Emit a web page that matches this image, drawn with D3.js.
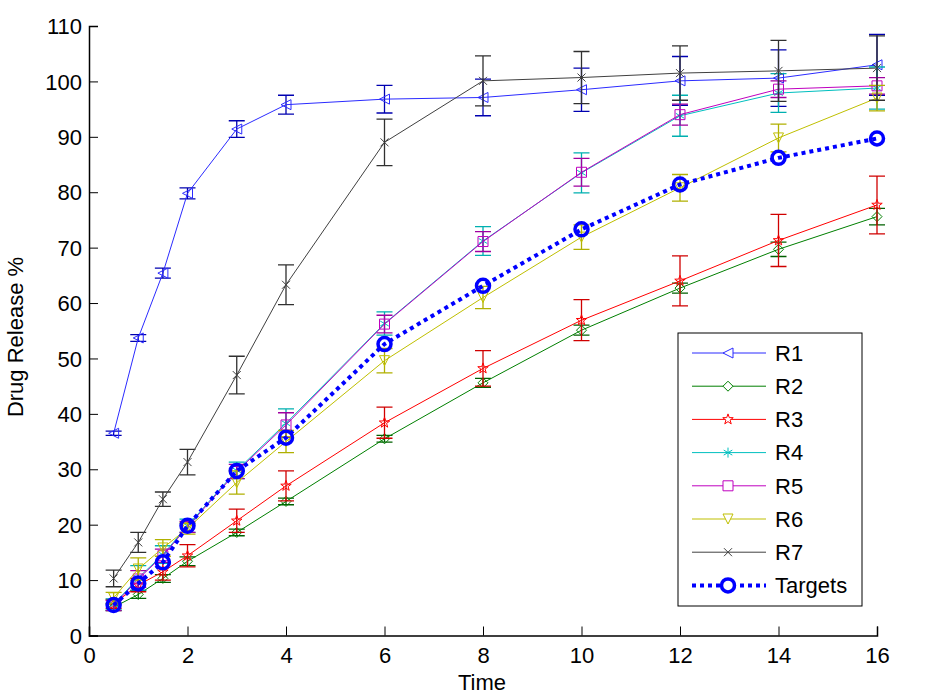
<!DOCTYPE html>
<html><head><meta charset="utf-8">
<script src="https://cdn.jsdelivr.net/npm/d3@7"></script>
<style>body{margin:0;background:#fff}svg{display:block}text{font-family:Arial,"Liberation Sans",sans-serif;fill:#000}</style>
</head><body><svg id="c" width="929" height="700"></svg>
<script>
const times = [0.5, 1, 1.5, 2, 3, 4, 6, 8, 10, 12, 14, 16];
const seriesNames = ["R1","R2","R3","R4","R5","R6","R7","Targets"];
const r1 = [36.5, 53.7, 65.4, 79.8, 91.4, 95.8, 96.8, 97.1, 98.5, 100.1, 100.6, 103.0];
const r1Err = [0.4, 0.6, 0.9, 1.0, 1.5, 1.7, 2.5, 3.3, 3.9, 4.4, 5.1, 5.5];
const r2 = [5.1, 7.4, 10.3, 13.4, 18.6, 24.2, 35.5, 45.6, 55.1, 62.7, 69.7, 75.6];
const r2Err = [0.6, 0.7, 0.7, 0.8, 0.6, 0.6, 0.6, 0.8, 0.9, 0.9, 1.3, 1.5];
const r3 = [5.7, 9.1, 11.5, 14.4, 20.7, 27.0, 38.4, 48.2, 56.9, 64.0, 71.3, 77.7];
const r3Err = [0.8, 1.2, 1.5, 2.0, 2.1, 2.7, 2.8, 3.2, 3.7, 4.5, 4.7, 5.2];
const r4 = [5.6, 10.4, 14.6, 19.8, 29.8, 38.3, 56.3, 71.2, 83.5, 93.8, 97.9, 98.8];
const r4Err = [1.0, 2.2, 1.6, 1.2, 1.5, 2.6, 2.1, 2.6, 3.6, 3.7, 3.5, 3.8];
const r5 = [5.4, 10.2, 14.4, 19.6, 29.6, 38.0, 56.2, 71.1, 83.6, 94.0, 98.6, 99.2];
const r5Err = [0.9, 1.5, 1.2, 1.0, 1.3, 2.2, 1.6, 1.8, 2.5, 1.9, 1.5, 1.5];
const r6 = [6.8, 12.0, 15.8, 19.3, 27.6, 35.0, 49.6, 61.0, 71.9, 80.8, 89.8, 97.0];
const r6Err = [1.0, 2.0, 1.5, 1.0, 2.1, 2.0, 2.2, 2.0, 2.2, 2.4, 2.5, 2.3];
const r7 = [10.3, 16.8, 24.6, 31.3, 47.0, 63.3, 89.0, 100.1, 100.7, 101.5, 101.9, 102.4];
const r7Err = [1.5, 1.8, 1.3, 2.3, 3.4, 3.6, 4.2, 4.5, 4.7, 4.9, 5.5, 5.8];
const targets = [5.5, 9.4, 13.2, 19.8, 29.7, 35.7, 52.6, 63.1, 73.3, 81.4, 86.2, 89.7];
const xTicks = [0, 2, 4, 6, 8, 10, 12, 14, 16];
const yTicks = [0, 10, 20, 30, 40, 50, 60, 70, 80, 90, 100, 110];

const svg = d3.select("#c");
const x = d3.scaleLinear().domain([0, 16]).range([89, 877]);
const y = d3.scaleLinear().domain([0, 110]).range([635.5, 26]);

const seriesDefs = [
  {name:"R1", v:r1, e:r1Err, color:"#2b2bff", ecol:"#0000b0", marker:"tleft"},
  {name:"R2", v:r2, e:r2Err, color:"#007f00", ecol:"#006000", marker:"diamond"},
  {name:"R3", v:r3, e:r3Err, color:"#ff0000", ecol:"#d00000", marker:"star"},
  {name:"R4", v:r4, e:r4Err, color:"#00bfbf", ecol:"#00b0b0", marker:"aster"},
  {name:"R5", v:r5, e:r5Err, color:"#bf00bf", ecol:"#a000a0", marker:"square"},
  {name:"R6", v:r6, e:r6Err, color:"#bfbf00", ecol:"#b0b000", marker:"tdown"},
  {name:"R7", v:r7, e:r7Err, color:"#404040", ecol:"#303030", marker:"x"},
];

function markerPath(type){
  const s = 5;
  switch(type){
    case "tleft": return `M${-s},0L${s},${-s}L${s},${s}Z`;
    case "tdown": return `M${-s},${-s}L${s},${-s}L0,${s}Z`;
    case "diamond": return `M0,${-s}L${s},0L0,${s}L${-s},0Z`;
    case "square": return `M${-s},${-s}L${s},${-s}L${s},${s}L${-s},${s}Z`;
    case "x": return `M${-4},${-4}L4,4M${-4},4L4,${-4}`;
    case "aster": return `M0,${-5}L0,5M${-4.3},${-2.5}L4.3,2.5M${-4.3},2.5L4.3,${-2.5}`;
    case "star": {
      let p = [];
      for (let i=0;i<10;i++){
        const r = i%2===0 ? 5.5 : 2.2;
        const a = -Math.PI/2 + i*Math.PI/5;
        p.push([r*Math.cos(a), r*Math.sin(a)]);
      }
      return "M" + p.map(d=>d[0].toFixed(2)+","+d[1].toFixed(2)).join("L") + "Z";
    }
  }
}

// axes
const gx = svg.append("g").attr("transform","translate(0,635.5)")
  .call(d3.axisBottom(x).tickValues(xTicks).tickSize(-9).tickPadding(12).tickFormat(d3.format("d")));
const gy = svg.append("g").attr("transform","translate(89,0)")
  .call(d3.axisLeft(y).tickValues(yTicks).tickSize(-9).tickPadding(7).tickFormat(d3.format("d")));
[gx, gy].forEach(g=>{
  g.select(".domain").attr("stroke","#000").attr("stroke-width",1.5);
  g.selectAll(".tick line").attr("stroke","#000").attr("stroke-width",1);
  g.selectAll(".tick text").style("font-size","22px").attr("fill","#000");
});
gy.selectAll(".tick text").attr("dy","0.35em");

svg.append("text").attr("x",482).attr("y",690).attr("text-anchor","middle").style("font-size","22px").text("Time");
svg.append("text").attr("transform","translate(23,337) rotate(-90)").attr("text-anchor","middle").style("font-size","22px").text("Drug Release %");

const line = d3.line().x((d,i)=>x(times[i])).y(d=>y(d));
const plot = svg.append("g");

seriesDefs.forEach(s=>{
  const g = plot.append("g");
  s.v.forEach((v,i)=>{
    const cx = x(times[i]), y1 = y(v - s.e[i]), y2 = y(v + s.e[i]);
    g.append("path").attr("d",`M${cx},${y1}L${cx},${y2}M${cx-8},${y1}L${cx+8},${y1}M${cx-8},${y2}L${cx+8},${y2}`)
      .attr("stroke", s.ecol).attr("stroke-width",1.3).attr("fill","none");
  });
  g.append("path").attr("d", line(s.v)).attr("fill","none").attr("stroke", s.color).attr("stroke-width",1);
  g.selectAll(".m").data(s.v).enter().append("path")
    .attr("transform",(d,i)=>`translate(${x(times[i])},${y(d)})`)
    .attr("d", markerPath(s.marker)).attr("fill","none").attr("stroke", s.color).attr("stroke-width",1);
});

// targets
const tg = plot.append("g");
tg.append("path").attr("d", line(targets)).attr("fill","none").attr("stroke","#0000ff")
  .attr("stroke-width",4).attr("stroke-dasharray","4,4");
tg.selectAll("circle").data(targets).enter().append("circle")
  .attr("cx",(d,i)=>x(times[i])).attr("cy",d=>y(d)).attr("r",6.5)
  .attr("fill","none").attr("stroke","#0000ff").attr("stroke-width",3.5);

// legend
const lg = svg.append("g").attr("transform","translate(678,333)");
lg.append("rect").attr("width",184).attr("height",273).attr("fill","#fff").attr("stroke","#000").attr("stroke-width",1);
const legendItems = seriesDefs.map(s=>({name:s.name,color:s.color,marker:s.marker})).concat([{name:seriesNames[7],color:"#0000ff",marker:"circle"}]);
legendItems.forEach((it,i)=>{
  const yy = 20 + i*33.2;
  const g = lg.append("g").attr("transform",`translate(0,${yy})`);
  if (it.marker === "circle"){
    g.append("path").attr("d","M14,0L88,0").attr("stroke",it.color).attr("stroke-width",4).attr("stroke-dasharray","4,4");
    g.append("circle").attr("cx",50).attr("cy",0).attr("r",6.5).attr("fill","#fff").attr("stroke",it.color).attr("stroke-width",3.5);
  } else {
    g.append("path").attr("d","M14,0L88,0").attr("stroke",it.color).attr("stroke-width",1);
    g.append("path").attr("transform","translate(50,0)").attr("d",markerPath(it.marker)).attr("fill","#fff").attr("stroke",it.color).attr("stroke-width",1);
  }
  g.append("text").attr("x",97).attr("y",0).attr("dy","0.35em").style("font-size","22px").text(it.name);
});
</script></body></html>
